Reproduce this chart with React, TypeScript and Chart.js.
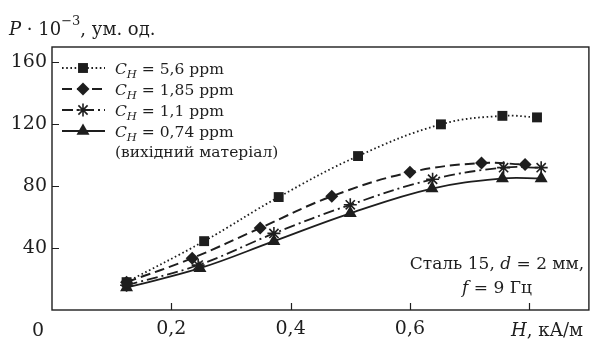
import React, { useEffect, useRef } from "react";
import { Chart, registerables } from "chart.js";

Chart.register(...registerables);

// Data (H in kA/m, P·10^-3 in arb. units)
const hSquares = [0.125, 0.255, 0.38, 0.513, 0.652, 0.755, 0.813];
const pSquares = [18, 44.5, 73, 99.5, 120, 125.5, 124.5];

const hDiamonds = [0.125, 0.235, 0.349, 0.469, 0.6, 0.72, 0.793];
const pDiamonds = [18, 33.5, 53, 73.5, 89, 95, 94];

const hStars = [0.125, 0.245, 0.372, 0.5, 0.638, 0.757, 0.82];
const pStars = [16, 29, 49.5, 68, 84.5, 92, 92];

const hTriangles = [0.125, 0.248, 0.372, 0.5, 0.637, 0.755, 0.82];
const pTriangles = [14.5, 27, 44.5, 62.5, 78.5, 85, 85];

const seriesConc = ["5,6", "1,85", "1,1", "0,74"];
const xTickValues = [0.2, 0.4, 0.6];
const xTickLabels = ["0,2", "0,4", "0,6"];
const yTickValues = [40, 80, 120, 160];

const INK = "#1e1e1e";
const FAM = "'DejaVu Serif', 'Liberation Serif', serif";
const FS = 17;
const TICK_FS = 19;
const LEG_FS = 15.5;

const styles = [
  { dash: [1.6, 2.6], marker: "rect", r: 7, w: 1.8 },
  { dash: [10, 5], marker: "rectRot", r: 6.5, w: 2 },
  { dash: [11, 4, 2, 4], marker: "star", r: 6.5, w: 1.8 },
  { dash: [], marker: "triangle", r: 7.5, w: 1.8 },
];

function zip(xs: number[], ys: number[]) {
  return xs.map((x, i) => ({ x, y: ys[i] }));
}

function drawMarker(ctx: CanvasRenderingContext2D, kind: string, x: number, y: number, r: number) {
  ctx.save();
  ctx.setLineDash([]);
  ctx.fillStyle = INK;
  ctx.strokeStyle = INK;
  ctx.beginPath();
  if (kind === "rect") {
    const s = Math.SQRT1_2 * r;
    ctx.rect(x - s, y - s, 2 * s, 2 * s);
    ctx.fill();
  } else if (kind === "rectRot") {
    ctx.moveTo(x - r, y);
    ctx.lineTo(x, y - r);
    ctx.lineTo(x + r, y);
    ctx.lineTo(x, y + r);
    ctx.closePath();
    ctx.fill();
  } else if (kind === "triangle") {
    for (let k = 0; k < 3; k++) {
      const a = (k * 2 * Math.PI) / 3;
      const px = x + Math.sin(a) * r;
      const py = y - Math.cos(a) * r;
      if (k === 0) ctx.moveTo(px, py);
      else ctx.lineTo(px, py);
    }
    ctx.closePath();
    ctx.fill();
  } else if (kind === "star") {
    ctx.lineWidth = 1.6;
    for (let k = 0; k < 4; k++) {
      const a = (k * Math.PI) / 4;
      ctx.moveTo(x - Math.cos(a) * r, y - Math.sin(a) * r);
      ctx.lineTo(x + Math.cos(a) * r, y + Math.sin(a) * r);
    }
    ctx.stroke();
  }
  ctx.restore();
}

type Run = { t: string; italic?: boolean; size?: number; dy?: number };

function runsWidth(ctx: CanvasRenderingContext2D, runs: Run[], base: number) {
  let w = 0;
  for (const r of runs) {
    ctx.font = `${r.italic ? "italic " : ""}${r.size || base}px ${FAM}`;
    w += ctx.measureText(r.t).width;
  }
  return w;
}

function drawRuns(ctx: CanvasRenderingContext2D, x: number, y: number, runs: Run[], base: number) {
  let cx = x;
  for (const r of runs) {
    ctx.font = `${r.italic ? "italic " : ""}${r.size || base}px ${FAM}`;
    ctx.fillText(r.t, cx, y + (r.dy || 0));
    cx += ctx.measureText(r.t).width;
  }
}

const decorPlugin = {
  id: "decor",
  afterDraw(chart: any) {
    const ctx: CanvasRenderingContext2D = chart.ctx;
    const { left, right, top, bottom } = chart.chartArea;
    const xs = chart.scales.x;
    const ys = chart.scales.y;
    ctx.save();
    ctx.strokeStyle = INK;
    ctx.fillStyle = INK;
    ctx.lineWidth = 1.4;
    ctx.setLineDash([]);
    ctx.strokeRect(left, top, right - left, bottom - top);
    // inner ticks
    ctx.beginPath();
    for (const v of yTickValues) {
      const py = Math.round(ys.getPixelForValue(v)) + 0.5;
      ctx.moveTo(left, py);
      ctx.lineTo(left + 7, py);
    }
    for (const v of [0.2, 0.4, 0.6, 0.8]) {
      const px = Math.round(xs.getPixelForValue(v)) + 0.5;
      ctx.moveTo(px, bottom);
      ctx.lineTo(px, bottom - 7);
    }
    ctx.lineWidth = 1.2;
    ctx.stroke();

    ctx.textBaseline = "alphabetic";
    // origin label
    ctx.font = `${TICK_FS}px ${FAM}`;
    ctx.textAlign = "center";
    ctx.fillText("0", 38, 336);
    ctx.textAlign = "left";
    // x axis title
    drawRuns(ctx, 511, 336, [{ t: "H", italic: true }, { t: ", кА/м" }], 18);
    // y axis title
    drawRuns(
      ctx,
      9,
      35,
      [
        { t: "P", italic: true },
        { t: " · 10" },
        { t: "−3", size: 13, dy: -10 },
        { t: ", ум. од." },
      ],
      18
    );

    // legend
    const ly = [68, 89, 110, 131];
    styles.forEach((s, i) => {
      const y = ly[i];
      ctx.save();
      ctx.lineWidth = s.w;
      ctx.setLineDash(s.dash);
      ctx.beginPath();
      ctx.moveTo(62, y);
      ctx.lineTo(105, y);
      ctx.stroke();
      ctx.restore();
      drawMarker(ctx, s.marker, 83, y, s.r);
      drawRuns(
        ctx,
        115,
        y + 6,
        [
          { t: "C", italic: true },
          { t: "H", italic: true, size: 11.5, dy: 4 },
          { t: " = " + seriesConc[i] + " ppm" },
        ],
        LEG_FS
      );
    });
    ctx.font = `${LEG_FS}px ${FAM}`;
    ctx.fillText("(вихідний матеріал)", 115, 157);

    // annotation
    const l1: Run[] = [{ t: "Сталь 15, " }, { t: "d", italic: true }, { t: " = 2 мм," }];
    const l2: Run[] = [{ t: "f", italic: true }, { t: " = 9 Гц" }];
    const cx = 497;
    drawRuns(ctx, cx - runsWidth(ctx, l1, FS) / 2, 269, l1, FS);
    drawRuns(ctx, cx - runsWidth(ctx, l2, FS) / 2, 293, l2, FS);
    ctx.restore();
  },
};

export default function App() {
  const ref = useRef<HTMLCanvasElement | null>(null);
  useEffect(() => {
    if (!ref.current) return;
    const series = [
      zip(hSquares, pSquares),
      zip(hDiamonds, pDiamonds),
      zip(hStars, pStars),
      zip(hTriangles, pTriangles),
    ];
    const chart = new Chart(ref.current, {
      type: "line",
      data: {
        datasets: series.map((d, i) => ({
          data: d,
          borderColor: INK,
          backgroundColor: INK,
          borderWidth: styles[i].w,
          borderDash: styles[i].dash,
          tension: 0.4,
          pointStyle: styles[i].marker,
          pointRadius: styles[i].r,
          pointBorderWidth: styles[i].marker === "star" ? 1.6 : 0,
          pointBorderColor: INK,
          pointBackgroundColor: INK,
          fill: false,
        })),
      },
      options: {
        animation: false,
        responsive: false,
        events: [],
        layout: { padding: { top: 47, right: 4, left: 0, bottom: 0 } },
        plugins: { legend: { display: false }, tooltip: { enabled: false } },
        scales: {
          x: {
            type: "linear",
            min: 0,
            max: 0.9,
            afterFit: (s: any) => {
              s.height = 31;
            },
            afterBuildTicks: (s: any) => {
              s.ticks = xTickValues.map((v) => ({ value: v }));
            },
            grid: { display: false, drawTicks: false },
            border: { display: false },
            ticks: {
              padding: 8,
              maxRotation: 0,
              color: INK,
              font: { family: FAM, size: TICK_FS },
              callback: (v: any) => {
                const i = xTickValues.findIndex((t) => Math.abs(t - v) < 1e-6);
                return i >= 0 ? xTickLabels[i] : "";
              },
            },
          },
          y: {
            type: "linear",
            min: 0,
            max: 170,
            afterFit: (s: any) => {
              s.width = 52;
            },
            afterBuildTicks: (s: any) => {
              s.ticks = yTickValues.map((v) => ({ value: v }));
            },
            grid: { display: false, drawTicks: false },
            border: { display: false },
            ticks: {
              padding: 5,
              color: INK,
              font: { family: FAM, size: TICK_FS },
              callback: (v: any) => String(v),
            },
          },
        },
      },
      plugins: [decorPlugin],
    } as any);
    return () => chart.destroy();
  }, []);
  return (
    <div style={{ position: "fixed", left: 0, top: 0, width: 597, height: 341, background: "#fff" }}>
      <canvas ref={ref} width={597} height={341} />
    </div>
  );
}
